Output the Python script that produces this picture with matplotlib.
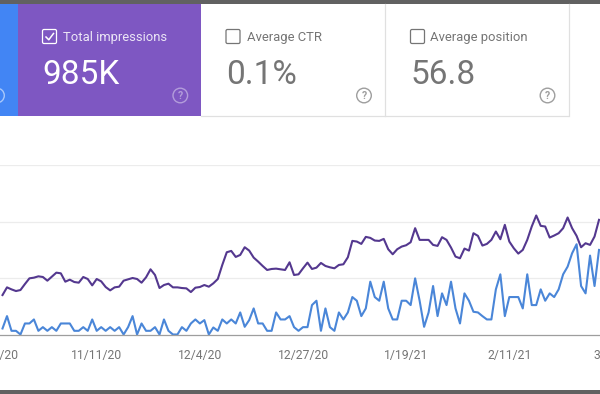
import matplotlib
matplotlib.use("Agg")
import matplotlib.pyplot as plt
import matplotlib.dates as mdates
import pandas as pd
from matplotlib.patches import Rectangle, Circle, FancyBboxPatch

plt.rcParams['font.family'] = ['Roboto', 'DejaVu Sans']

# heights above the baseline
impressions = [118,141,135,130,133,151,168,170,174,172,161,173,185,183,158,164,157,155,172,166,147,166,159,142,132,141,143,161,165,169,166,155,171,195,178,139,148,152,141,141,139,138,127,140,142,
    148,143,153,166,208,246,250,232,238,261,251,230,218,205,193,196,197,195,193,216,178,180,198,215,196,200,214,205,201,198,208,210,231,280,278,271,292,289,281,280,286,255,240,255,
    263,267,276,318,283,283,283,268,265,291,283,260,233,228,257,251,303,295,266,271,283,308,285,328,278,258,242,253,283,323,356,325,323,290,296,303,318,350,318,295,261,273,268,293,343]
clicks = [18,55,11,11,0,33,33,45,11,22,11,22,11,33,33,33,11,11,22,11,45,11,22,11,22,11,22,0,22,55,0,33,11,11,22,0,45,11,0,0,22,11,33,45,33,
    43,0,21,11,45,33,45,33,66,23,43,78,33,33,11,11,66,45,45,55,22,11,22,22,88,101,11,78,22,11,66,45,66,112,101,55,78,158,112,101,158,78,45,45,
    101,101,88,168,101,23,66,145,55,123,88,158,78,33,123,101,68,66,55,45,45,135,180,55,112,112,112,78,180,88,88,135,101,123,112,135,180,203,243,270,145,123,236,145,253]
dates = pd.date_range("2020-10-21", periods=len(clicks), freq="D")

tick_dates = ["2020-10-19", "2020-11-11", "2020-12-04", "2020-12-27", "2021-01-19", "2021-02-11", "2021-03-06"]
tick_labels = ["10/19/20", "11/11/20", "12/4/20", "12/27/20", "1/19/21", "2/11/21", "3/6/21"]
grid_values = [169, 338, 507]

W, H = 600, 394
fig = plt.figure(figsize=(W / 100, H / 100), dpi=100)
fig.patch.set_facecolor("white")

# chart axes run past the figure so the clipped date labels still get drawn
px_per_day = 4.485
left_px, right_px = -60, 660
x0 = mdates.date2num(pd.Timestamp("2020-11-11"))
ax = fig.add_axes([left_px / W, (H - 334.5) / H, (right_px - left_px) / W, (334.5 - 165) / H])
ax.set_xlim(x0 + (left_px - 96.7) / px_per_day, x0 + (right_px - 96.7) / px_per_day)
ax.set_ylim(0, 507)
ax.plot(dates, impressions, color="#54388f", lw=1.5, solid_joinstyle="round")
ax.plot(dates, clicks, color="#4a86d8", lw=1.5, solid_joinstyle="round")
for g in grid_values:
    ax.axhline(g, color="#ececec", lw=0.9, zorder=0)
ax.set_yticks([])
ax.set_xticks(pd.to_datetime(tick_dates))
ax.set_xticklabels(tick_labels, fontsize=8.7, color="#757575")
ax.tick_params(axis="x", length=0, pad=10.5)
for s in ["top", "left", "right"]:
    ax.spines[s].set_visible(False)
ax.spines["bottom"].set_color("#9e9e9e")
ax.spines["bottom"].set_linewidth(0.9)
ax.patch.set_alpha(0)

# cards drawn in pixel coords
ov = fig.add_axes([0, 0, 1, 1])
ov.set_xlim(0, W)
ov.set_ylim(H, 0)
ov.axis("off")
ov.patch.set_alpha(0)


def checkbox(x, y, edge, checked=False):
    ov.add_patch(FancyBboxPatch((x, y), 14, 14, boxstyle="round,pad=0,rounding_size=1.5",
                                fc="none", ec=edge, lw=0.9))
    if checked:
        ov.plot([x + 3.5, x + 6.3, x + 11], [y + 7.5, y + 10.3, y + 4], color=edge, lw=1.1)


def help_icon(x, y, color):
    ov.add_patch(Circle((x, y), 7.3, fc="none", ec=color, lw=1.0))
    ov.text(x, y + 0.3, "?", color=color, fontsize=7.5, ha="center", va="center", fontweight="bold")


ov.add_patch(Rectangle((0, 0), W, 4, fc="#616161", ec="none"))
ov.add_patch(Rectangle((0, 390), W, 4, fc="#616161", ec="none"))
ov.add_patch(Rectangle((0, 4), 18, 112, fc="#4285f4", ec="none"))
ov.add_patch(Rectangle((18, 4), 183, 112, fc="#7e57c2", ec="none"))
ov.plot([201, 568], [116, 116], color="#e0e0e0", lw=0.9)
ov.plot([385, 385], [4, 116], color="#e0e0e0", lw=0.9)
ov.plot([568.5, 568.5], [4, 116], color="#e0e0e0", lw=0.9)
help_icon(-3, 95.5, "#a9c8fa")

checkbox(42.5, 29.5, "#ffffff", checked=True)
ov.text(63, 37, "Total impressions", color="#ffffff", alpha=0.85, fontsize=9.4, va="center")
ov.text(42.5, 74.5, "985K", color="#ffffff", fontsize=24, va="center")
help_icon(180.3, 95.5, "#b39ddb")

checkbox(226, 29.5, "#757575")
ov.text(247, 37, "Average CTR", color="#757575", fontsize=9.4, va="center")
ov.text(226.5, 74.5, "0.1%", color="#757575", fontsize=24, va="center")
help_icon(364, 95.5, "#9e9e9e")

checkbox(410.5, 29.5, "#757575")
ov.text(430.5, 37, "Average position", color="#757575", fontsize=9.4, va="center")
ov.text(411, 74.5, "56.8", color="#757575", fontsize=24, va="center")
help_icon(547.5, 95.5, "#9e9e9e")

fig.savefig("out.png", dpi=100)
